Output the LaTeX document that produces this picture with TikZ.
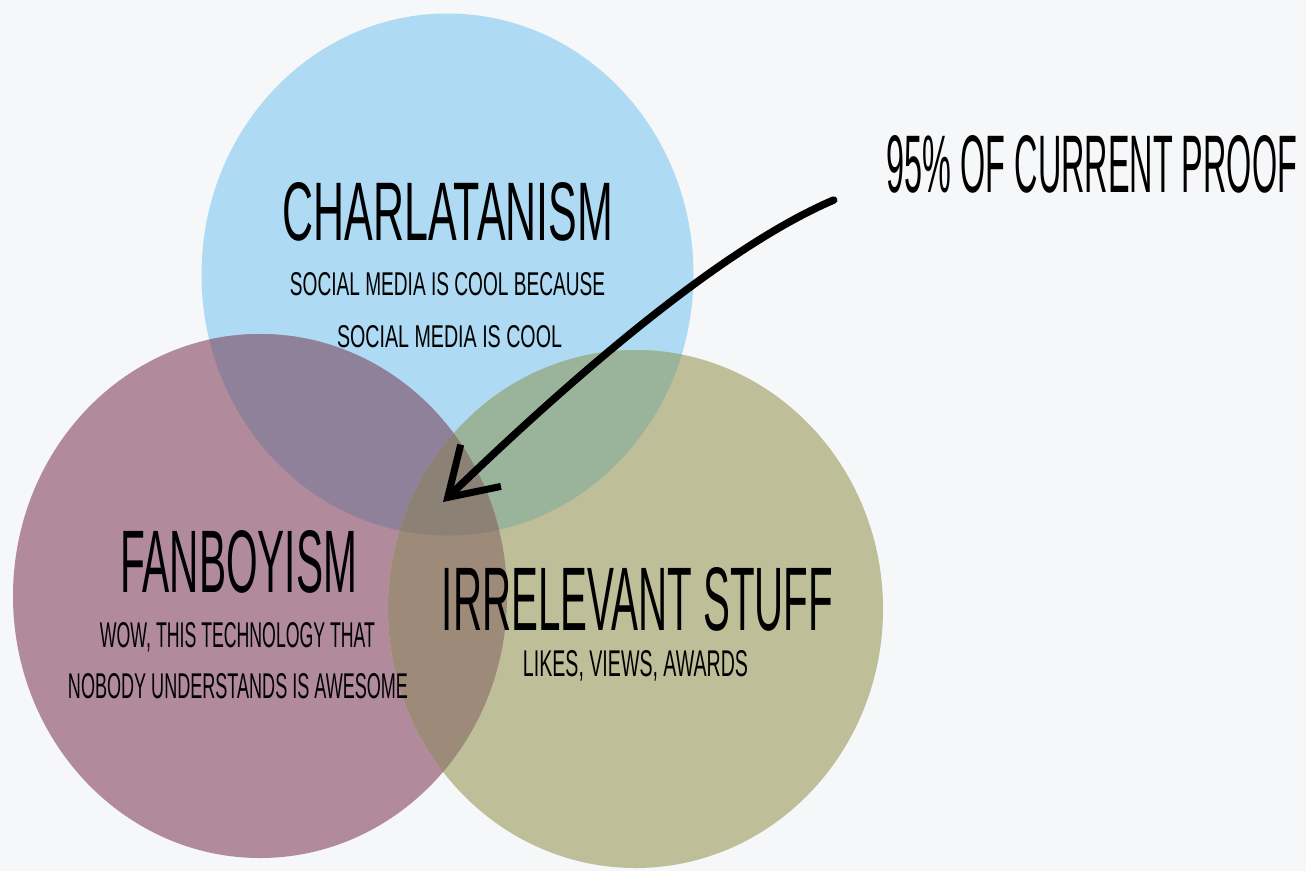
\documentclass[tikz,border=0pt]{standalone}
\usepackage{fontspec}
\setmainfont{Liberation Sans}
\usetikzlibrary{arrows.meta}

\definecolor{paper}{HTML}{F6F7F9}
\definecolor{skyset}{HTML}{AEDAF3}
\definecolor{mauveset}{HTML}{B18B9B}
\definecolor{sageset}{HTML}{BEBF99}
\definecolor{skymauve}{HTML}{8F819A}
\definecolor{skysage}{HTML}{9AB49B}
\definecolor{mauvesage}{HTML}{9E8A78}
\definecolor{allthree}{HTML}{8B8275}

% squeeze a label to the width and cap height it has in the picture
\newcommand{\fitlabel}[3]{\resizebox{#1}{#2}{#3}}

\tikzset{
  label text/.style={anchor=base, inner sep=0pt, text=black},
  pointer/.style={line width=7.5pt, line cap=round,
    -{Straight Barb[length=46pt, width=58pt, line width=7pt]}}
}

\def\charlset{(447.5,274.5) ellipse [x radius=246, y radius=261]}
\def\fanset{(260,596) ellipse [x radius=247, y radius=262]}
\def\irrset{(635.5,609) ellipse [x radius=247.5, y radius=259]}

\begin{document}
\begin{tikzpicture}[x=1pt, y=-1pt]
\fill[paper] (0,0) rectangle (1306,871);
\useasboundingbox (0,0) rectangle (1306,871);

% the three sets
\fill[skyset] \charlset;
\fill[mauveset] \fanset;
\fill[sageset] \irrset;

% overlaps
\begin{scope}
  \clip \charlset;
  \fill[skymauve] \fanset;
  \fill[skysage] \irrset;
\end{scope}
\begin{scope}
  \clip \fanset;
  \fill[mauvesage] \irrset;
\end{scope}
\begin{scope}
  \clip \charlset;
  \clip \fanset;
  \fill[allthree] \irrset;
\end{scope}

% labels
\node[label text] (charl) at (448,240) {\fitlabel{330pt}{58pt}{CHARLATANISM}};
\node[label text] (charl1) at (447.5,295) {\fitlabel{315pt}{23pt}{SOCIAL MEDIA IS COOL BECAUSE}};
\node[label text] (charl2) at (449.5,347) {\fitlabel{225pt}{22pt}{SOCIAL MEDIA IS COOL}};

\node[label text] (fan) at (238.5,592) {\fitlabel{237pt}{62pt}{FANBOYISM}};
\node[label text] (fan1) at (237.5,647) {\fitlabel{275pt}{25pt}{WOW, THIS TECHNOLOGY THAT}};
\node[label text] (fan2) at (238,698) {\fitlabel{340pt}{25pt}{NOBODY UNDERSTANDS IS AWESOME}};

\node[label text] (irr) at (637.5,630) {\fitlabel{391pt}{63pt}{IRRELEVANT STUFF}};
\node[label text] (irr1) at (635.5,676) {\fitlabel{225pt}{26pt}{LIKES, VIEWS, AWARDS}};

\node[label text] (proof) at (1092,192) {\fitlabel{410pt}{57pt}{95\% OF CURRENT PROOF}};

% arrow into the middle
\coordinate (tail) at ([xshift=-53pt, yshift=-8pt]proof.base west);
\coordinate (core) at (443,502);
\draw[pointer] (tail) .. controls (740,240) and (610,341) .. (core);
\end{tikzpicture}
\end{document}
